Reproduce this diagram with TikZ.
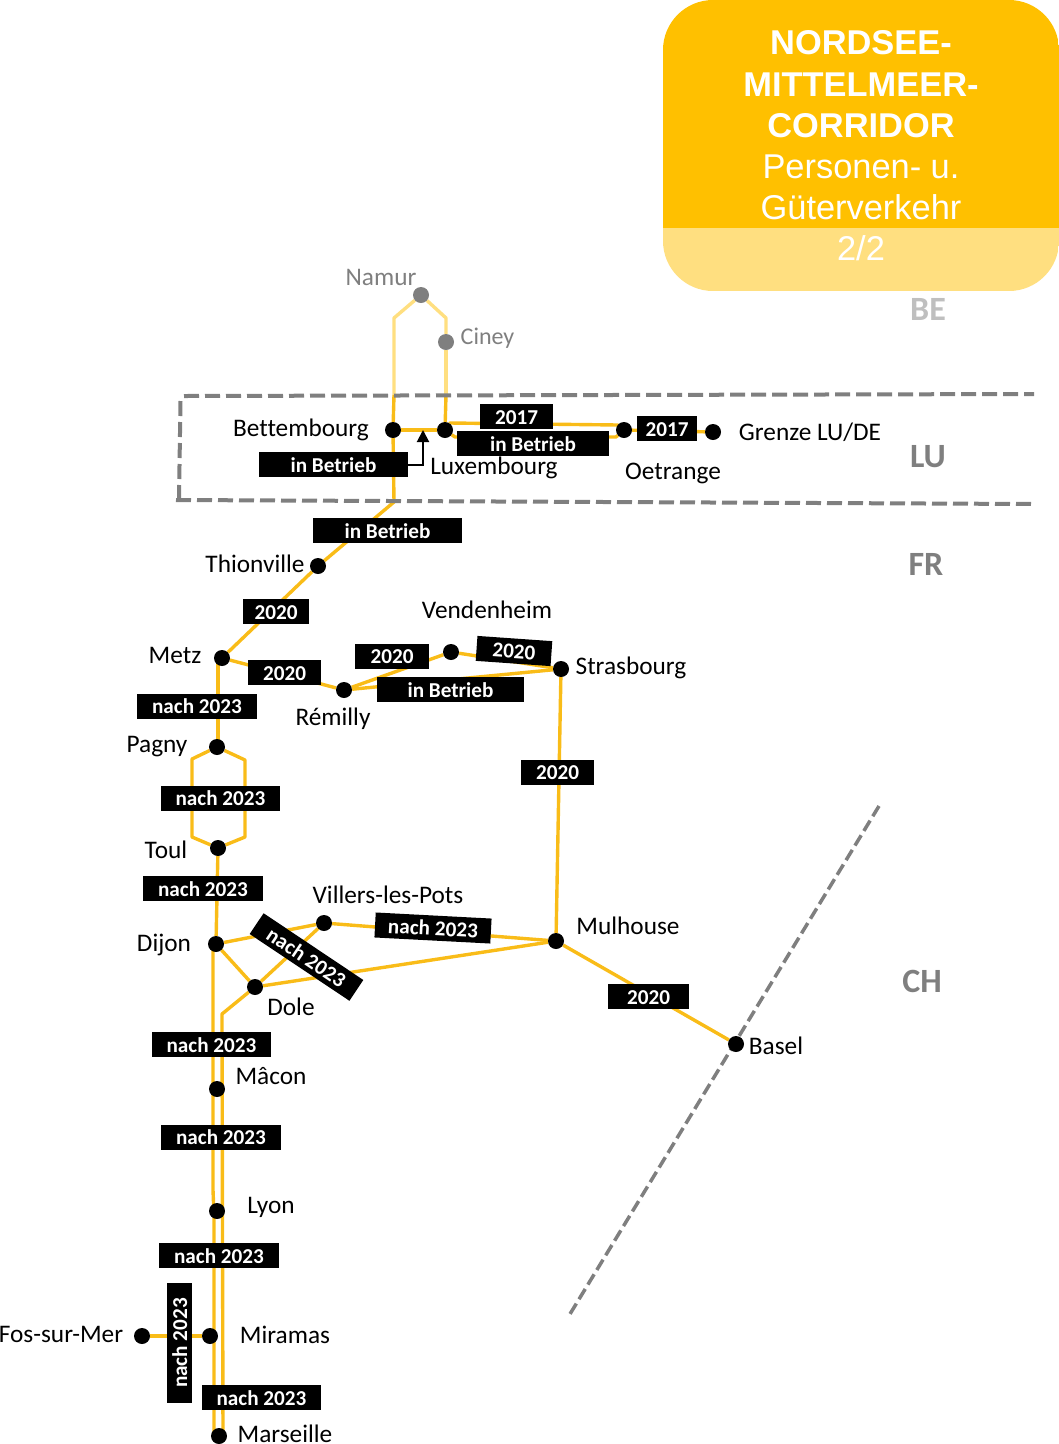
\documentclass[tikz,border=0pt]{standalone}
\usepackage{fontspec}
\setmainfont[Ligatures=NoCommon]{Carlito}
\newfontfamily\titlefont{Liberation Sans}
\usetikzlibrary{backgrounds,arrows.meta}
\definecolor{corridor}{HTML}{FFC000}
\definecolor{corridorlight}{HTML}{FFDF80}
\definecolor{trackdark}{HTML}{F9BC18}
\definecolor{frontier}{HTML}{7F7F7F}
\tikzset{
  x=1pt,y=-1pt,
  track/.style={draw=trackdark,line width=3.4pt,line join=round},
  trackfaint/.style={draw=corridorlight,line width=3.4pt,line join=round},
  stationdot/.style={circle,fill=black,minimum size=16pt,inner sep=0pt},
  stationgrey/.style={circle,fill=frontier,minimum size=16pt,inner sep=0pt},
  place/.style={inner sep=0pt,text height=16pt,text depth=0pt,font=\fontsize{25.3}{25}\selectfont},
  placegrey/.style={place,text=frontier},
  tag/.style={fill=black,text=white,inner sep=0pt,minimum height=25pt,font=\bfseries\fontsize{21.2}{21}\selectfont,text height=15pt,text depth=0pt},
  border/.style={draw=frontier,line width=4pt,dash pattern=on 15pt off 6pt},
  country/.style={inner sep=0pt,font=\bfseries\fontsize{34}{34}\selectfont,text=frontier},
}
\begin{document}
\begin{tikzpicture}
\useasboundingbox (0,0) rectangle (1059,1444);
\clip (0,0) rectangle (1059,1444);

% corridor title panel
\begin{scope}
  \clip[rounded corners=50pt] (663,0) rectangle (1059,291);
  \fill[corridor] (663,0) rectangle (1059,228);
  \fill[corridorlight] (663,228) rectangle (1059,291);
\end{scope}
\node[text=white,align=center,font=\titlefont\fontsize{34.4}{41.2}\selectfont] (paneltitle) at (861,125.5)
  {\textbf{NORDSEE-}\\\textbf{MITTELMEER-}\\\textbf{CORRIDOR}\\Personen- u.\\Güterverkehr};
\node[text=white,font=\titlefont\fontsize{34.4}{40}\selectfont] (panelpart) at (861,248) {2/2};

% stations
\node[stationgrey] (namur) at (421,295) {};
\node[stationgrey] (ciney) at (446,342) {};
\node[stationdot] (bettembourg) at (393,430) {};
\node[stationdot] (luxembourg) at (445,430) {};
\node[stationdot] (oetrange) at (624,430) {};
\node[stationdot] (grenze) at (713,432) {};
\node[stationdot] (thionville) at (318,566) {};
\node[stationdot] (metz) at (222,658) {};
\node[stationdot] (remilly) at (344,690) {};
\node[stationdot] (vendenheim) at (451,652) {};
\node[stationdot] (strasbourg) at (561,669) {};
\node[stationdot] (pagny) at (217,747) {};
\node[stationdot] (toul) at (218,848) {};
\node[stationdot] (dijon) at (216,944) {};
\node[stationdot] (villers) at (324,923) {};
\node[stationdot] (dole) at (255,987) {};
\node[stationdot] (mulhouse) at (556,941) {};
\node[stationdot] (basel) at (736,1044) {};
\node[stationdot] (macon) at (217,1089) {};
\node[stationdot] (lyon) at (217,1211) {};
\node[stationdot] (miramas) at (210,1336) {};
\node[stationdot] (fos) at (142,1336) {};
\node[stationdot] (marseille) at (219,1436) {};

% bend points of the tracks and ends of the frontier lines
\coordinate (namurW) at (394,318);
\coordinate (namurE) at (446,318);
\coordinate (frontierW) at (394,395);
\coordinate (frontierE) at (446,395);
\coordinate (lineS) at (394,502);
\coordinate (luxN) at (450,423);
\coordinate (oetN) at (618,425);
\coordinate (luxS) at (455,437);
\coordinate (oetS) at (616,437);
\coordinate (metzS) at (218,660);
\coordinate (pagnyN) at (218,745);
\coordinate (pagnyW) at (192,759);
\coordinate (pagnyE) at (245,760);
\coordinate (toulW) at (192,837);
\coordinate (toulE) at (245,837);
\coordinate (dijonS) at (213,950);
\coordinate (lyonW) at (213,1190);
\coordinate (lyonS) at (214,1215);
\coordinate (marW) at (214,1436);
\coordinate (doleS) at (222,1014);
\coordinate (marE) at (223,1436);
\coordinate (nwA) at (184,396);
\coordinate (neA) at (1034,394);
\coordinate (nwB) at (180.5,401);
\coordinate (swA) at (179,498);
\coordinate (swB) at (176,500);
\coordinate (seA) at (1034,504);
\coordinate (chN) at (879,806);
\coordinate (chS) at (570,1314);

% tracks and the Swiss frontier, all beneath the station dots
\begin{scope}[on background layer]
  \draw[trackfaint] (frontierW) -- (namurW) -- (namur);
  \draw[trackfaint] (namur) -- (namurE) -- (ciney);
  \draw[trackfaint] (ciney) -- (frontierE);
  \draw[track] (frontierW) -- (bettembourg);
  \draw[track] (frontierE) -- (luxembourg);
  \draw[track] (bettembourg) -- (luxembourg);
  \draw[track] (luxembourg) -- (luxN) -- (oetN) -- (oetrange);
  \draw[track] (luxembourg) -- (luxS) -- (oetS) -- (oetrange);
  \draw[track] (oetrange) -- (grenze);
  \draw[track] (bettembourg) -- (lineS) -- (thionville);
  \draw[track] (thionville) -- (metz);
  \draw[track] (metz) -- (remilly);
  \draw[track] (remilly) -- (vendenheim);
  \draw[track] (vendenheim) -- (strasbourg);
  \draw[track] (remilly) -- (strasbourg);
  \draw[track] (strasbourg) -- (mulhouse);
  \draw[track] (metzS) -- (pagnyN);
  \draw[track] (pagny) -- (pagnyW) -- (toulW) -- (toul);
  \draw[track] (pagny) -- (pagnyE) -- (toulE) -- (toul);
  \draw[track] (toul) -- (dijon);
  \draw[track] (dijon) -- (villers);
  \draw[track] (dijon) -- (dole);
  \draw[track] (dole) -- (villers);
  \draw[track] (dole) -- (mulhouse);
  \draw[track] (villers) -- (mulhouse);
  \draw[track] (mulhouse) -- (basel);
  \draw[track] (dijonS) -- (lyonW) -- (lyonS) -- (marW);
  \draw[track] (dole) -- (doleS) -- (marE);
  \draw[track] (fos) -- (miramas);
  \draw[border,line width=3.5pt,dash pattern=on 12pt off 5.13pt] (chN) -- (chS);
\end{scope}

% Luxembourg frontier
\draw[border] (nwA) -- (neA);
\draw[border] (nwB) -- (swA);
\draw[border] (swB) -- (seA);

% section tags
\node[tag,minimum width=149pt] (tagBett) at (333.5,464.5) {in Betrieb};
\node[tag,minimum width=73pt] (tagLuxA) at (516.5,416.5) {2017};
\node[tag,minimum width=152pt] (tagLuxB) at (533,443.5) {in Betrieb};
\node[tag,minimum width=60pt] (tagOet) at (667,428.5) {2017};
\node[tag,minimum width=149pt] (tagThi) at (387.5,530.5) {in Betrieb};
\node[tag,minimum width=66pt] (tagMetzN) at (276,611.5) {2020};
\node[tag,minimum width=73pt] (tagRem) at (284.5,672.5) {2020};
\node[tag,minimum width=74pt] (tagVen) at (392,656) {2020};
\node[tag,minimum width=75pt,rotate=-4] (tagStr) at (514,651) {2020};
\node[tag,minimum width=147pt] (tagRemS) at (450.5,689.5) {in Betrieb};
\node[tag,minimum width=120pt] (tagPagN) at (197,706) {nach 2023};
\node[tag,minimum width=119pt] (tagPagS) at (220.5,798) {nach 2023};
\node[tag,minimum width=73pt] (tagMul) at (557.5,772) {2020};
\node[tag,minimum width=120pt] (tagToul) at (203,888.5) {nach 2023};
\node[tag,minimum width=116pt,rotate=-3] (tagVil) at (433,928) {nach 2023};
\node[tag,minimum width=120pt,rotate=-33.8] (tagDole) at (306.5,957) {nach 2023};
\node[tag,minimum width=119pt] (tagDij) at (211.5,1044.5) {nach 2023};
\node[tag,minimum width=120pt] (tagMac) at (221,1137) {nach 2023};
\node[tag,minimum width=120pt] (tagLyo) at (219,1255.5) {nach 2023};
\node[tag,minimum width=120pt,rotate=90] (tagFos) at (179.5,1343) {nach 2023};
\node[tag,minimum width=119pt] (tagMar) at (261.5,1397.5) {nach 2023};
\node[tag,minimum width=81pt] (tagBas) at (648.5,996.5) {2020};

% Luxembourg pointer
\coordinate (luxArrow) at (423,430);
\draw[line width=2pt,-{Triangle[length=12pt,width=12pt]}] (tagBett.east) -| (luxArrow);

% station names
\node[placegrey] (lNamur) at (381,277) {Namur};
\node[placegrey,font=\fontsize{24}{24}\selectfont] (lCiney) at (487.5,336) {Ciney};
\node[place] (lBett) at (301,428) {Bettembourg};
\node[place] (lLux) at (494,466) {Luxembourg};
\node[place] (lOet) at (673,471) {Oetrange};
\node[place] (lGr) at (810,432) {Grenze LU/DE};
\node[place] (lThi) at (255,564) {Thionville};
\node[place] (lVen) at (487,610) {Vendenheim};
\node[place] (lMetz) at (175,655) {Metz};
\node[place] (lStr) at (631,666) {Strasbourg};
\node[place] (lRem) at (333,717) {Rémilly};
\node[place] (lPag) at (157,744) {Pagny};
\node[place] (lToul) at (166,850) {Toul};
\node[place] (lVil) at (388,895) {Villers-les-Pots};
\node[place] (lMul) at (628,926) {Mulhouse};
\node[place] (lDij) at (164,943) {Dijon};
\node[place] (lDole) at (291,1007) {Dole};
\node[place] (lBas) at (776,1046) {Basel};
\node[place] (lMac) at (271,1076) {Mâcon};
\node[place] (lLyo) at (271,1205) {Lyon};
\node[place] (lMir) at (285,1335) {Miramas};
\node[place] (lFos) at (61,1334) {Fos-sur-Mer};
\node[place] (lMar) at (285,1434) {Marseille};

% country codes
\node[country,text=frontier!50] (cBE) at (928,309) {BE};
\node[country] (cLU) at (928,457) {LU};
\node[country] (cFR) at (926,564) {FR};
\node[country] (cCH) at (922,981) {CH};
\end{tikzpicture}
\end{document}
